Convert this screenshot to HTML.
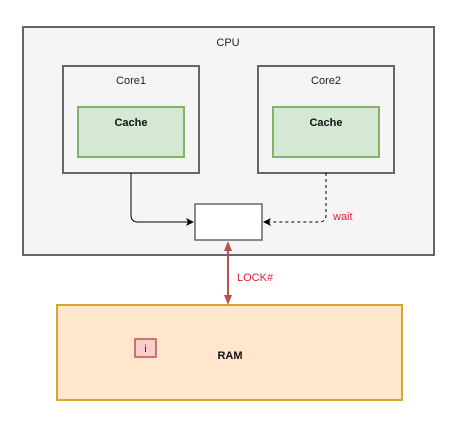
<!DOCTYPE html>
<html><head><style>html,body{margin:0;padding:0;background:#fff;}svg{display:block}</style></head>
<body>
<svg width="457" height="425" viewBox="0 0 457 425" xmlns="http://www.w3.org/2000/svg" font-family="'Comic Sans MS','Liberation Sans',sans-serif">
<rect x="23" y="27" width="411" height="228" fill="#f5f5f5" stroke="#666" stroke-width="2"/>
<text x="228" y="46" font-size="11" text-anchor="middle" fill="#222">CPU</text>
<rect x="63" y="66" width="136" height="107" fill="#f5f5f5" stroke="#666" stroke-width="2"/>
<text x="131" y="84" font-size="11" text-anchor="middle" fill="#222">Core1</text>
<rect x="78" y="107" width="106" height="50" fill="#d5e8d4" stroke="#82b366" stroke-width="2"/>
<text x="131" y="126" font-size="11" font-weight="bold" text-anchor="middle" fill="#111">Cache</text>
<rect x="258" y="66" width="136" height="107" fill="#f5f5f5" stroke="#666" stroke-width="2"/>
<text x="326" y="84" font-size="11" text-anchor="middle" fill="#222">Core2</text>
<rect x="273" y="107" width="106" height="50" fill="#d5e8d4" stroke="#82b366" stroke-width="2"/>
<text x="326" y="126" font-size="11" font-weight="bold" text-anchor="middle" fill="#111">Cache</text>
<rect x="195" y="204" width="67" height="36" fill="#fff" stroke="#666" stroke-width="1.5"/>
<path d="M131 173 V215 Q131 222 138 222 H190" fill="none" stroke="#000" stroke-width="1"/>
<path d="M194 222 L186 218 L188 222 L186 226 Z" fill="#000"/>
<path d="M326 173 V215 Q326 222 319 222 H268" fill="none" stroke="#000" stroke-width="1" stroke-dasharray="3,3"/>
<path d="M263 222 L271 218 L269 222 L271 226 Z" fill="#000"/>
<text x="333" y="220" font-family="'Liberation Sans',sans-serif" font-size="11" fill="#e0203c">wait</text>
<rect x="57" y="305" width="345" height="95" fill="#ffe6cc" stroke="#d6a82a" stroke-width="2"/>
<line x1="228" y1="247" x2="228" y2="298" stroke="#b85450" stroke-width="2"/>
<path d="M228 241 L224 251 L232 251 Z" fill="#b85450"/>
<path d="M228 305 L224 295 L232 295 Z" fill="#b85450"/>
<text x="237" y="281" font-family="'Liberation Sans',sans-serif" font-size="11" fill="#e0203c">LOCK#</text>
<rect x="135" y="339" width="21" height="18" fill="#f8cecc" stroke="#b85450" stroke-width="1.5"/>
<text x="145.5" y="352" font-size="10" text-anchor="middle" fill="#111">i</text>
<text x="230" y="359" font-size="11" font-weight="bold" text-anchor="middle" fill="#111">RAM</text>
</svg>
</body></html>
